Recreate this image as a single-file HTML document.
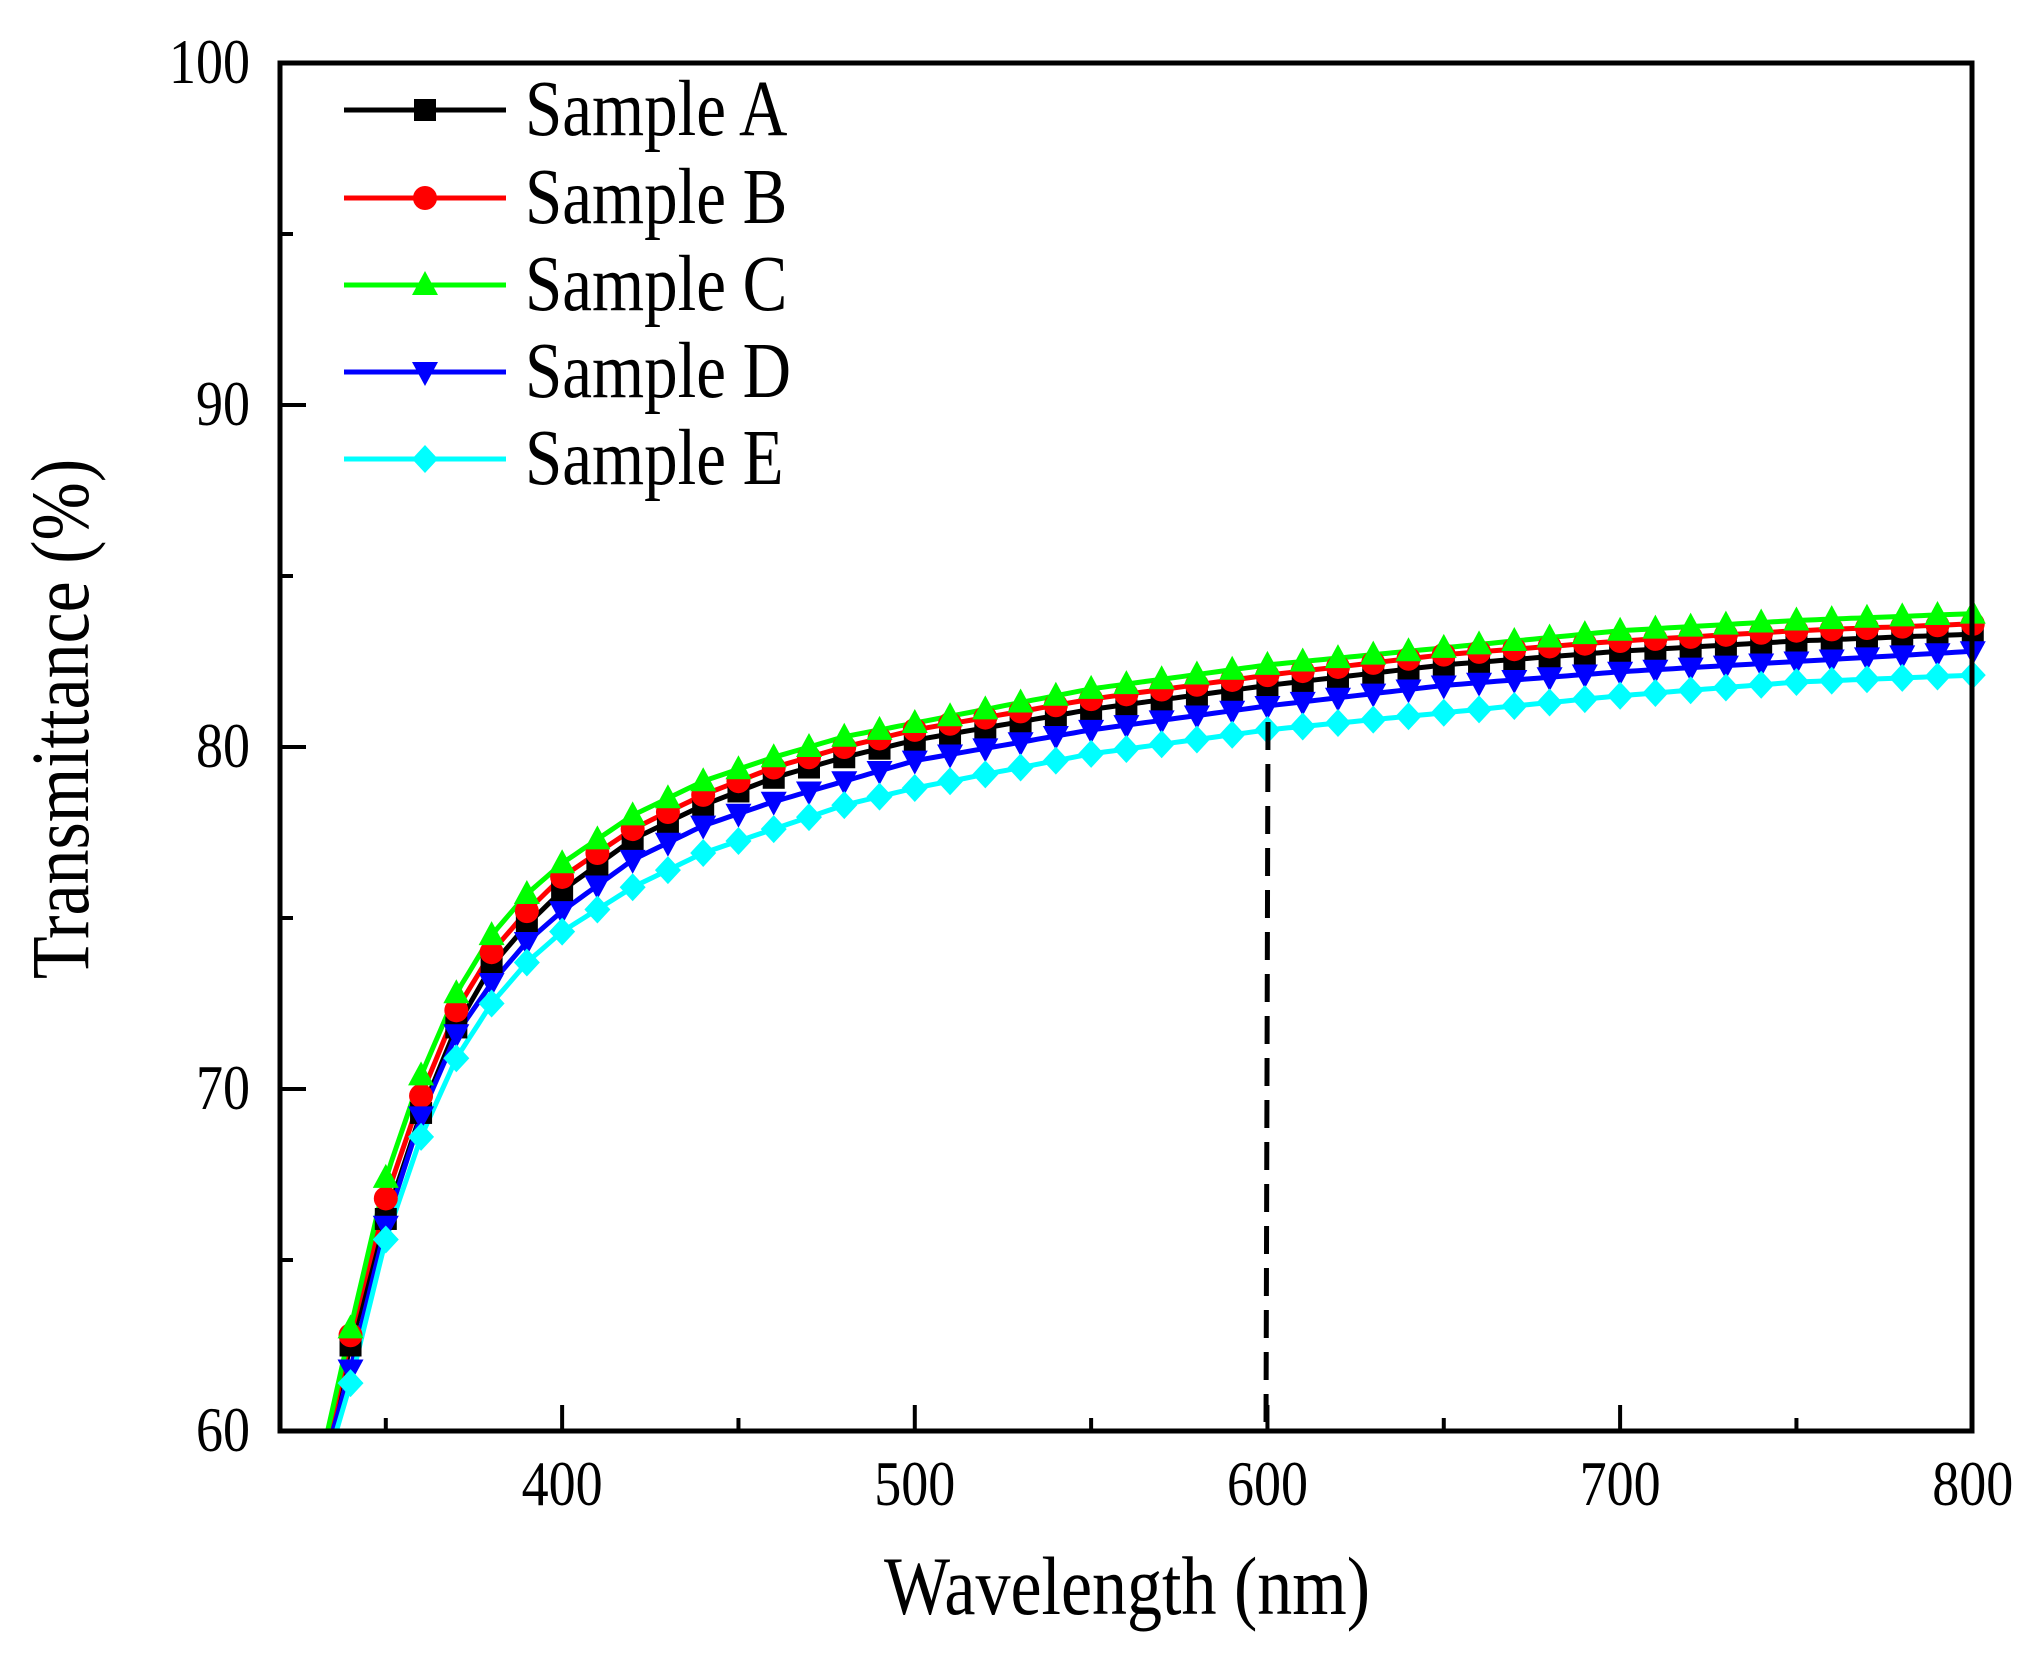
<!DOCTYPE html>
<html><head><meta charset="utf-8"><style>
html,body{margin:0;padding:0;background:#fff;}
svg{display:block;font-family:"Liberation Serif",serif;}
</style></head><body>
<svg id="s" width="2044" height="1662" viewBox="0 0 2044 1662" xmlns="http://www.w3.org/2000/svg">
<g id="plot"></g>
<line x1="1268" y1="722" x2="1266" y2="1429" stroke="#000" stroke-width="5" stroke-dasharray="28,14"/>
<rect x="280" y="63" width="1692" height="1368" fill="none" stroke="#000" stroke-width="5"/>
<g id="ticks" stroke="#000" stroke-width="4"></g>
<g id="txt" fill="#000"></g>
<g id="legend" font-size="67"></g>
</svg>
<script>
const X=l=>280+(l-320)*3.5266, Y=v=>1431-(v-60)*34.2;
const S=[
["#000","sq",[[334,60],[340,62.5],[350,66.2],[360,69.3],[370,71.8],[380,73.6],[390,74.8],[400,75.8],[420,77.3],[440,78.3],[460,79.1],[480,79.7],[500,80.2],[550,81.1],[600,81.8],[650,82.4],[700,82.8],[750,83.1],[800,83.3]],"Sample A"],
["#f00","ci",[[334,60],[340,62.8],[350,66.8],[360,69.8],[370,72.3],[380,74.0],[390,75.2],[400,76.2],[420,77.6],[440,78.6],[460,79.4],[480,80.0],[500,80.5],[550,81.4],[600,82.1],[650,82.7],[700,83.1],[750,83.4],[800,83.6]],"Sample B"],
["#0f0","up",[[333.5,60],[340,63],[350,67.4],[360,70.4],[370,72.8],[380,74.5],[390,75.7],[400,76.6],[420,78.0],[440,79.0],[460,79.7],[480,80.3],[500,80.7],[550,81.7],[600,82.4],[650,82.9],[700,83.4],[750,83.7],[800,83.9]],"Sample C"],
["#00f","dn",[[335,60],[340,61.8],[350,66.0],[360,69.2],[370,71.6],[380,73.1],[390,74.3],[400,75.2],[420,76.7],[440,77.7],[460,78.4],[480,79.0],[500,79.6],[550,80.5],[600,81.2],[650,81.8],[700,82.2],[750,82.5],[800,82.8]],"Sample D"],
["#0ff","di",[[336,60],[340,61.4],[350,65.6],[360,68.6],[370,70.9],[380,72.5],[390,73.7],[400,74.6],[420,75.9],[440,76.9],[460,77.6],[480,78.3],[500,78.8],[550,79.8],[600,80.5],[650,81.0],[700,81.5],[750,81.9],[800,82.1]],"Sample E"]];
function interp(p,l){for(let i=1;i<p.length;i++){if(l<=p[i][0]){const a=p[i-1],b=p[i];return a[1]+(b[1]-a[1])*(l-a[0])/(b[0]-a[0]);}}return p[p.length-1][1];}
function mk(t,x,y,c){const r=11;
 if(t=="sq")return `<rect x="${x-r}" y="${y-r}" width="${2*r}" height="${2*r}" fill="${c}"/>`;
 if(t=="ci")return `<circle cx="${x}" cy="${y}" r="${r+1}" fill="${c}"/>`;
 if(t=="up")return `<polygon points="${x},${y-r-3} ${x-r-2},${y+r-1} ${x+r+2},${y+r-1}" fill="${c}"/>`;
 if(t=="dn")return `<polygon points="${x},${y+r+3} ${x-r-2},${y-r+1} ${x+r+2},${y-r+1}" fill="${c}"/>`;
 return `<polygon points="${x},${y-r-3} ${x+r+2},${y} ${x},${y+r+3} ${x-r-2},${y}" fill="${c}"/>`;}
let h="";
for(const [c,t,p] of S){let d="";for(let l=p[0][0];l<=800;l+=2){d+=(d?"L":"M")+X(l).toFixed(1)+","+Y(interp(p,l)).toFixed(1);}
 h+=`<path d="${d}" fill="none" stroke="${c}" stroke-width="5"/>`;}
for(const [c,t,p] of S){for(let l=340;l<=800;l+=10)h+=mk(t,X(l),Y(interp(p,l)),c);}
document.getElementById("plot").innerHTML=h;
let tk="";
for(let l=350;l<800;l+=50){const x=X(l),L=(l%100==0)?26:13;tk+=`<line x1="${x}" y1="1431" x2="${x}" y2="${1431-L}"/>`;}
for(let v=65;v<100;v+=5){const y=Y(v),L=(v%10==0)?26:13;tk+=`<line x1="280" y1="${y}" x2="${280+L}" y2="${y}"/>`;}
document.getElementById("ticks").innerHTML=tk;
const T=(x,y,s,fs,anc,rot)=>`<text transform="translate(${x},${y})${rot?" rotate(-90)":""} scale(1,1.18)" font-size="${fs}" text-anchor="${anc}">${s}</text>`;
let tx="";
[[100,83],[90,425],[80,767],[70,1109],[60,1451]].forEach(([v,y])=>tx+=T(250,y,v,54,"end"));
[400,500,600,700,800].forEach(v=>tx+=T(X(v),1505,v,54,"middle"));
tx+=T(1127,1614,"Wavelength (nm)",70,"middle");
tx+=T(88,719,"Transmittance (%)",70,"middle",true);
document.getElementById("txt").innerHTML=tx;
let lg="";const ys=[110,198,285,372,459];
S.forEach((s,i)=>{lg+=`<line x1="344" y1="${ys[i]}" x2="506" y2="${ys[i]}" stroke="${s[0]}" stroke-width="5"/>`+mk(s[1],425,ys[i],s[0])+`<text transform="translate(525,${ys[i]+25}) scale(1,1.18)">${s[3]}</text>`;});
document.getElementById("legend").innerHTML=lg;
</script>
</body></html>
